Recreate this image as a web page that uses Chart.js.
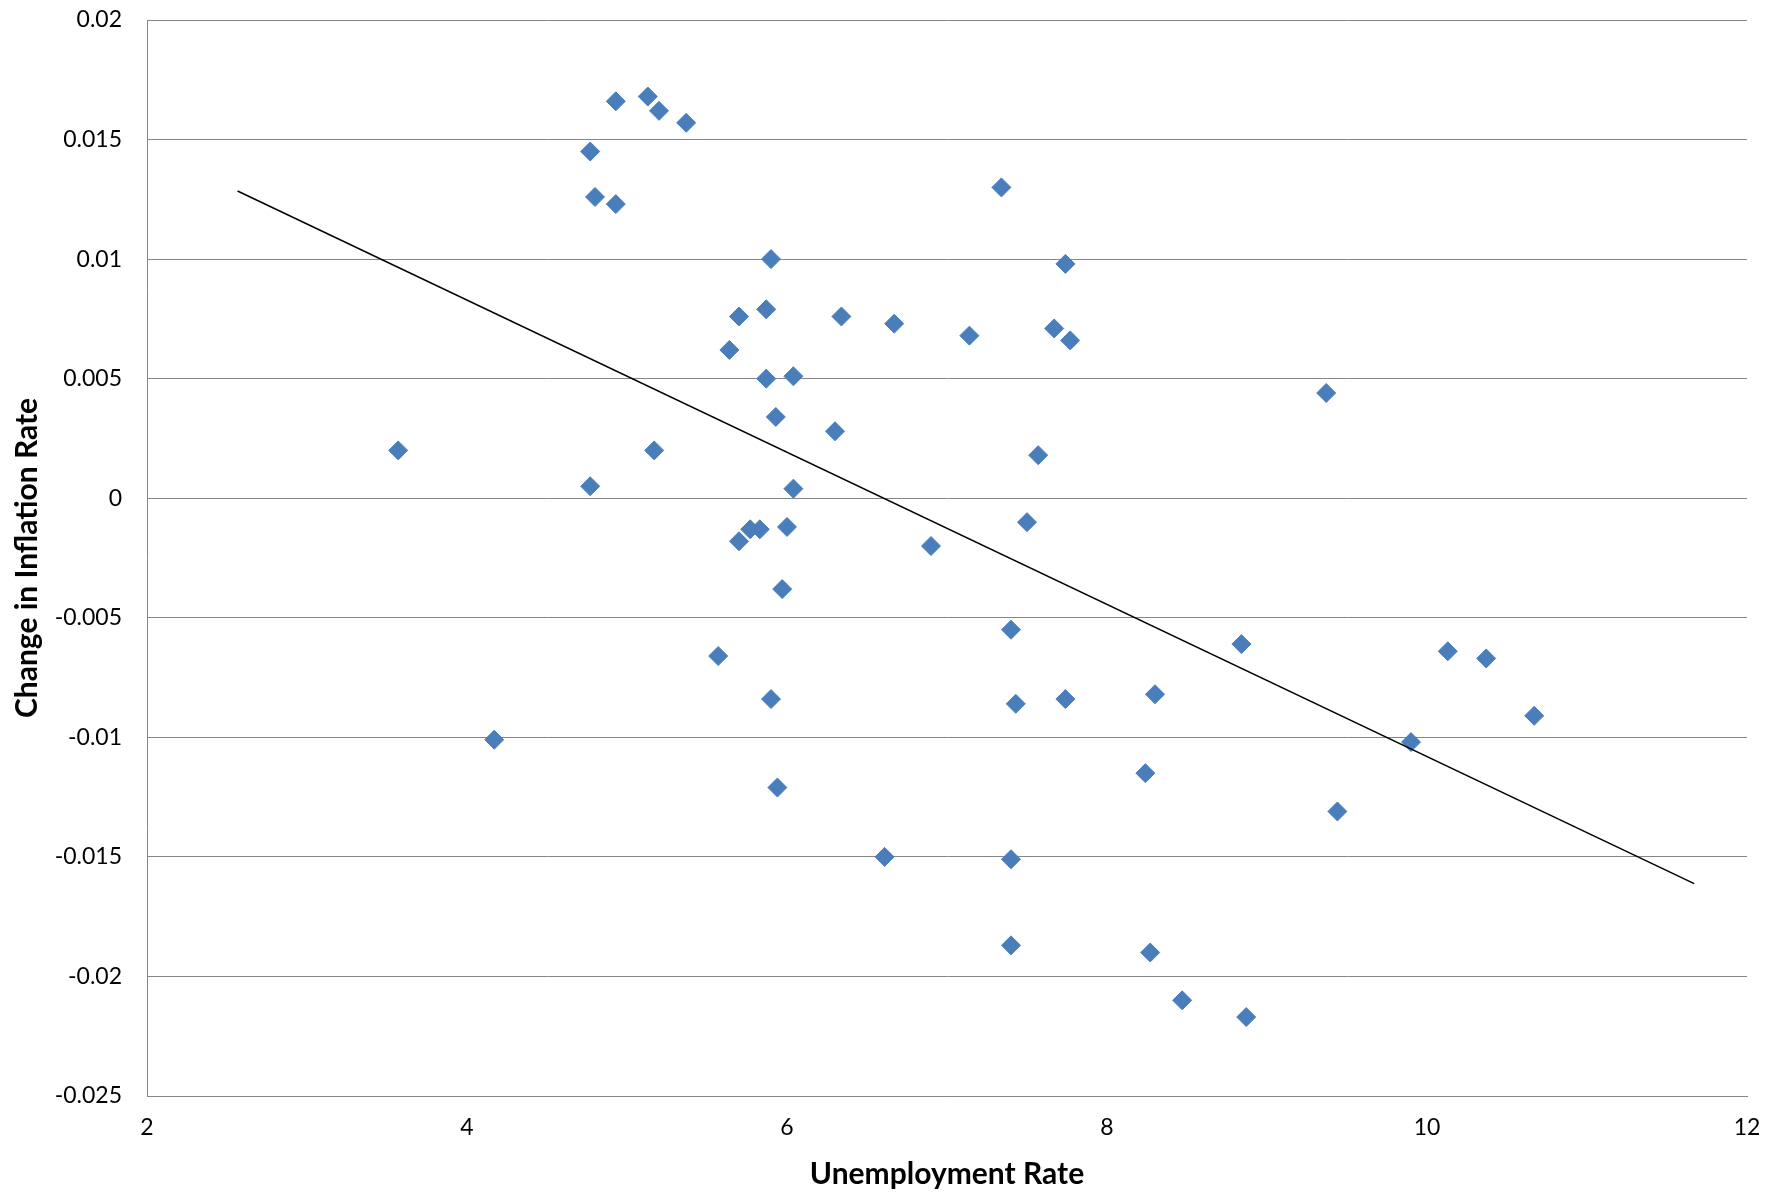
<!DOCTYPE html>
<html>
<head>
<meta charset="utf-8">
<script src="https://cdn.jsdelivr.net/npm/chart.js@4/dist/chart.umd.min.js"></script>
<style>
  html, body { margin: 0; padding: 0; background: #ffffff; }
  #wrap { width: 1783px; height: 1196px; }
</style>
</head>
<body>
<div id="wrap"><canvas id="c" width="1783" height="1196"></canvas></div>
<script>
// Unemployment rate (x) and change in inflation rate (y)
const unemploymentRate = [
  3.57, 4.17, 4.77, 4.80, 4.77, 4.93, 4.93, 5.13, 5.20, 5.37,
  5.17, 5.57, 5.64, 5.70, 5.70, 5.77, 5.83, 5.87, 5.87, 5.90,
  5.90, 5.93, 5.94, 5.97, 6.00, 6.04, 6.04, 6.30, 6.34, 6.61,
  6.67, 6.90, 7.14, 7.34, 7.40, 7.40, 7.40, 7.43, 7.50, 7.57,
  7.67, 7.74, 7.74, 7.77, 8.24, 8.27, 8.30, 8.47, 8.84, 8.87,
  9.37, 9.44, 9.90, 10.13, 10.37, 10.67
];
const inflationChange = [
  0.0020, -0.0101, 0.0145, 0.0126, 0.0005, 0.0166, 0.0123, 0.0168, 0.0162, 0.0157,
  0.0020, -0.0066, 0.0062, 0.0076, -0.0018, -0.0013, -0.0013, 0.0079, 0.0050, 0.0100,
  -0.0084, 0.0034, -0.0121, -0.0038, -0.0012, 0.0051, 0.0004, 0.0028, 0.0076, -0.0150,
  0.0073, -0.0020, 0.0068, 0.0130, -0.0055, -0.0151, -0.0187, -0.0086, -0.0010, 0.0018,
  0.0071, 0.0098, -0.0084, 0.0066, -0.0115, -0.0190, -0.0082, -0.0210, -0.0061, -0.0217,
  0.0044, -0.0131, -0.0102, -0.0064, -0.0067, -0.0091
];
// Linear trend line end points
const trendX = [2.566, 11.67];
const trendY = [0.01285, -0.01612];

const xTitle = "Unemployment Rate";
const yTitle = "Change in Inflation Rate";

const points = unemploymentRate.map((x, i) => ({ x: x, y: inflationChange[i] }));
const trend = trendX.map((x, i) => ({ x: x, y: trendY[i] }));

const FONT = "Lato, 'Open Sans', sans-serif";

new Chart(document.getElementById('c'), {
  type: 'scatter',
  data: {
    datasets: [
      {
        label: 'Trend',
        data: trend,
        showLine: true,
        borderColor: '#000000',
        borderWidth: 1.5,
        pointRadius: 0,
        fill: false
      },
      {
        label: 'Data',
        data: points,
        pointStyle: 'rectRot',
        pointRadius: 9.5,
        pointBackgroundColor: '#4A7EBB',
        pointBorderColor: '#4A7EBB',
        pointBorderWidth: 1
      }
    ]
  },
  options: {
    responsive: false,
    devicePixelRatio: 1,
    animation: false,
    layout: { padding: { left: 0, right: 36, top: 20, bottom: 0 } },
    plugins: { legend: { display: false }, tooltip: { enabled: false } },
    scales: {
      x: {
        type: 'linear',
        min: 2, max: 12,
        ticks: { stepSize: 2, color: '#000', padding: 18, font: { family: FONT, size: 23 } },
        grid: { display: false, drawTicks: false },
        border: { display: true, color: '#868686', width: 1 },
        title: { display: true, text: xTitle, color: '#000', padding: { top: 0, bottom: 4 },
                 font: { family: FONT, size: 30, weight: 'bold' } },
        afterFit: (s) => { s.height = 100; s.paddingLeft = 0; s.paddingRight = 0; }
      },
      y: {
        type: 'linear',
        min: -0.025, max: 0.02,
        ticks: { stepSize: 0.005, color: '#000', padding: 25, font: { family: FONT, size: 23 },
                 callback: (v) => String(+Number(v).toFixed(4)) },
        grid: { color: '#868686', lineWidth: 1, drawTicks: false },
        border: { display: true, color: '#868686', width: 1 },
        title: { display: true, text: yTitle, color: '#000', padding: { top: 9, bottom: 0 },
                 font: { family: FONT, size: 30, weight: 'bold' } },
        afterFit: (s) => { s.width = 147; s.paddingTop = 0; s.paddingBottom = 0; }
      }
    }
  }
});
</script>
</body>
</html>
